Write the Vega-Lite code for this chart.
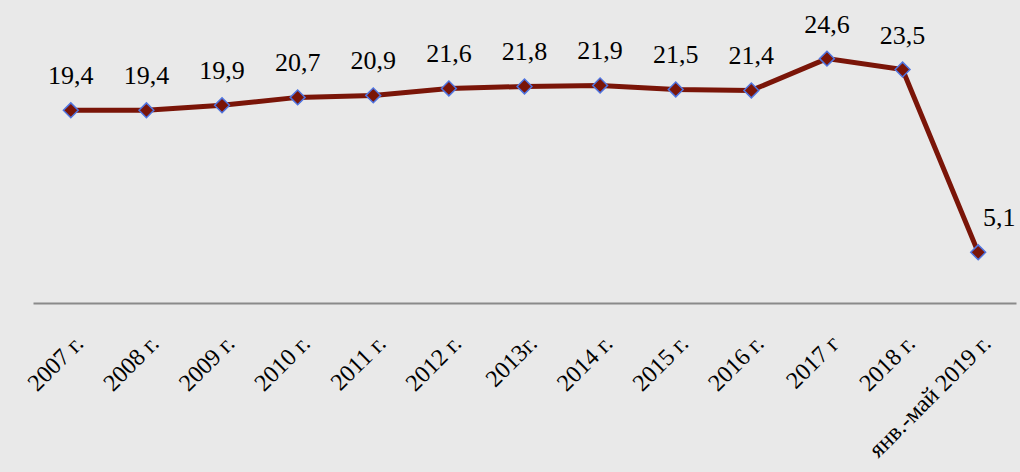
{
  "$schema": "https://vega.github.io/schema/vega-lite/v6.json",
  "width": 983,
  "height": 298,
  "padding": {"left": 33, "top": 5, "right": 4, "bottom": 169},
  "autosize": {"type": "none"},
  "background": "#e9e9e9",
  "config": {
    "view": {"stroke": null},
    "locale": {"number": {"decimal": ",", "thousands": " ", "grouping": [3], "currency": ["", ""]}},
    "font": "Liberation Serif"
  },
  "data": {
    "values": [
      {"period": "2007 г.", "value": 19.4},
      {"period": "2008 г.", "value": 19.4},
      {"period": "2009 г.", "value": 19.9},
      {"period": "2010 г.", "value": 20.7},
      {"period": "2011 г.", "value": 20.9},
      {"period": "2012 г.", "value": 21.6},
      {"period": "2013г.", "value": 21.8},
      {"period": "2014 г.", "value": 21.9},
      {"period": "2015 г.", "value": 21.5},
      {"period": "2016 г.", "value": 21.4},
      {"period": "2017 г", "value": 24.6},
      {"period": "2018 г.", "value": 23.5},
      {"period": "янв.-май 2019 г.", "value": 5.1}
    ]
  },
  "encoding": {
    "x": {
      "field": "period",
      "type": "nominal",
      "sort": null,
      "scale": {"type": "point", "padding": 0.5},
      "axis": {
        "title": null,
        "labelAngle": -45,
        "labelFont": "Liberation Serif",
        "labelFontSize": 24,
        "labelColor": "#000000",
        "labelPadding": 28,
        "labelDx": -16,
        "labelDy": 0,
        "ticks": false,
        "domainColor": "#8a8a8a",
        "domainWidth": 2,
        "grid": false,
        "labelOverlap": false,
        "labelLimit": 300
      }
    },
    "y": {
      "field": "value",
      "type": "quantitative",
      "scale": {"domain": [0, 30], "nice": false, "zero": true},
      "axis": null
    }
  },
  "layer": [
    {
      "mark": {"type": "line", "color": "#7a1508", "strokeWidth": 5}
    },
    {
      "mark": {"type": "point", "shape": "diamond", "filled": true, "fill": "#7a1508", "stroke": "#4f74e0", "strokeWidth": 1.5, "size": 220, "opacity": 1}
    },
    {
      "transform": [{"filter": "datum.value > 10"}],
      "mark": {"type": "text", "font": "Liberation Serif", "fontSize": 26, "color": "#000000", "baseline": "alphabetic", "dy": -26},
      "encoding": {
        "text": {"field": "value", "type": "quantitative", "format": ".1f"}
      }
    },
    {
      "transform": [{"filter": "datum.value <= 10"}],
      "mark": {"type": "text", "font": "Liberation Serif", "fontSize": 26, "color": "#000000", "baseline": "alphabetic", "dy": -26, "dx": 21},
      "encoding": {
        "text": {"field": "value", "type": "quantitative", "format": ".1f"}
      }
    }
  ]
}
